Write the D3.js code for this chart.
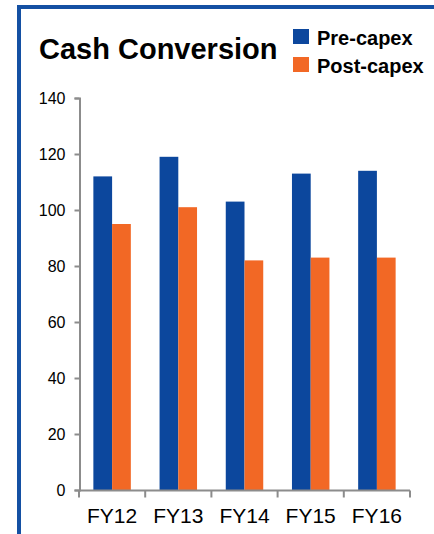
<!DOCTYPE html>
<html>
<head>
<meta charset="utf-8">
<script src="https://cdn.jsdelivr.net/npm/d3@7"></script>
<style>
  html, body { margin: 0; padding: 0; background: #fff; }
  svg { display: block; font-family: "Liberation Sans", Arial, sans-serif; }
</style>
</head>
<body>
<svg id="chart" width="434" height="534"></svg>
<script>
// Cash conversion by fiscal year, pre- and post-capex (%)
const categories = ["FY12", "FY13", "FY14", "FY15", "FY16"];
const preCapex  = [112, 119, 103, 113, 114];
const postCapex = [95, 101, 82, 83, 83];
const seriesNames = ["Pre-capex", "Post-capex"];
const yTicks = [0, 20, 40, 60, 80, 100, 120, 140];

const colors = { "Pre-capex": "#0C479D", "Post-capex": "#F26825" };
const frameColor = "#1450A3";
const axisColor = "#8C8C8C";

const svg = d3.select("#chart");

// Panel frame: top and left rule
svg.append("rect").attr("x", 17).attr("y", 5).attr("width", 434 - 17).attr("height", 4).attr("fill", frameColor);
svg.append("rect").attr("x", 17).attr("y", 5).attr("width", 4).attr("height", 534 - 5).attr("fill", frameColor);

// Title
svg.append("text")
  .attr("x", 39).attr("y", 59)
  .attr("font-size", 29).attr("font-weight", "bold").attr("fill", "#000")
  .text("Cash Conversion");

// Legend
const legend = svg.append("g");
seriesNames.forEach((name, i) => {
  const g = legend.append("g").attr("transform", `translate(293, ${29 + i * 28})`);
  g.append("rect").attr("width", 16).attr("height", 15).attr("fill", colors[name]);
  g.append("text").attr("x", 24).attr("y", 16)
    .attr("font-size", 20).attr("font-weight", "bold").attr("fill", "#000")
    .text(name);
});

// Scales
const x0 = d3.scaleBand().domain(categories).range([79, 410]).paddingInner(0).paddingOuter(0);
const groupPad = 0.217;
const x1 = d3.scaleBand().domain(seriesNames)
  .range([x0.bandwidth() * groupPad, x0.bandwidth() * (1 - groupPad)]).padding(0);
const y = d3.scaleLinear().domain([0, 140]).range([490, 98]);

// Bars
const rows = categories.map((c, i) => ({ cat: c, values: [
  { name: "Pre-capex", value: preCapex[i] },
  { name: "Post-capex", value: postCapex[i] }
]}));

svg.append("g").selectAll("g").data(rows).join("g")
  .attr("transform", d => `translate(${x0(d.cat)},0)`)
  .selectAll("rect").data(d => d.values).join("rect")
    .attr("x", d => x1(d.name))
    .attr("y", d => y(d.value))
    .attr("width", x1.bandwidth())
    .attr("height", d => y(0) - y(d.value))
    .attr("fill", d => colors[d.name]);

// Y axis
const yAxis = svg.append("g").attr("transform", "translate(79.5,0)")
  .call(d3.axisLeft(y).tickValues(yTicks).tickSize(5).tickPadding(9));
yAxis.select(".domain").attr("stroke", axisColor).attr("stroke-width", 2);
yAxis.selectAll(".tick line").attr("stroke", axisColor).attr("stroke-width", 2);
yAxis.selectAll(".tick text").attr("font-size", 16).attr("fill", "#000")
  .attr("font-family", "Liberation Sans, Arial, sans-serif");

// X axis with ticks at band boundaries
const xAxis = svg.append("g").attr("transform", "translate(0,490.5)");
xAxis.append("line").attr("x1", 79).attr("x2", 410).attr("y1", 0).attr("y2", 0)
  .attr("stroke", axisColor).attr("stroke-width", 2);
const bounds = categories.map(c => x0(c)).concat([x0(categories[categories.length - 1]) + x0.bandwidth()]);
xAxis.selectAll("line.b").data(bounds).join("line").attr("class", "b")
  .attr("x1", d => d).attr("x2", d => d).attr("y1", 0).attr("y2", 7)
  .attr("stroke", axisColor).attr("stroke-width", 2);
xAxis.selectAll("text").data(categories).join("text")
  .attr("x", d => x0(d) + x0.bandwidth() / 2)
  .attr("y", 32)
  .attr("text-anchor", "middle")
  .attr("font-size", 21).attr("fill", "#000")
  .text(d => d);
</script>
</body>
</html>
